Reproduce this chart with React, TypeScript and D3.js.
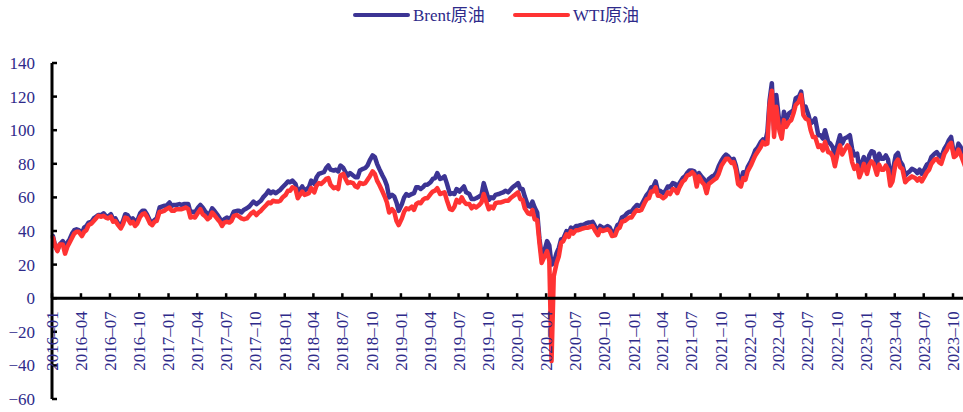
import React from 'react';
import * as d3 from 'd3';

// Series names (legend)
const seriesNames = ['Brent原油', 'WTI原油'];
const seriesColors = ['#3C3494', '#FF3333'];

// Four readings per month (around the 4th, 11th, 18th and 25th), starting January 2016
const startYear = 2016;

const brent: number[] = [
  // 2016
  37, 31, 28.5, 32, 34, 30, 33, 35, 38.5, 40.5, 41, 40.5, 38.5, 42, 43, 45, 45.5, 47.5, 48.5, 49.5, 49.5, 50.5, 49, 48.5,
  50, 47, 47.5, 45, 43, 46, 50, 49.5, 46.5, 47.5, 46, 46, 50.5, 52, 52, 50, 46, 45, 46.5, 47.5, 54, 54.5, 55, 55,
  // 2017
  57, 55, 55.5, 55.5, 56, 55.5, 56, 56, 56, 51, 51.5, 51, 54, 55.5, 54, 52, 50, 50.5, 53.5, 52, 49.5, 47.5, 45.5, 47,
  48, 47, 48.5, 51.5, 52, 52, 51, 52.5, 53.5, 54.5, 56, 57.5, 56, 57, 58, 60, 62, 64, 62.5, 63.5, 62.5, 63.5, 64.5, 66,
  // 2018
  68, 69.5, 69, 70, 68, 63, 64.5, 66.5, 64, 65, 66, 70, 68, 72, 74, 74.5, 75, 77.5, 79, 76.5, 76, 76.5, 75.5, 79,
  77.5, 75, 73, 74.5, 73, 72, 72, 76, 77, 77.5, 79, 82, 85, 84, 80, 77, 73, 70.5, 67, 60, 61.5, 60.5, 57, 52,
  // 2019
  56, 60, 62, 61, 62, 62.5, 66, 66, 65, 66, 67.5, 67.5, 69, 71, 71.5, 74.5, 71, 71.5, 72.5, 68.5, 62, 62.5, 62, 65,
  63.5, 65, 66.5, 63, 62, 59, 59, 59.5, 60.5, 61.5, 68.5, 64, 58.5, 60, 59.5, 61.5, 62, 62.5, 63, 64, 63, 64.5, 66, 67,
  // 2020
  68.5, 65, 65, 60.5, 55, 54.5, 57.5, 54, 51, 35.5, 25, 27, 34, 31.5, 20, 21, 27, 30, 35, 35.5, 40, 38.5, 42, 41,
  43, 43, 43.5, 43.5, 44.5, 45, 45, 45.5, 42, 40, 43, 42, 42, 43, 42, 39, 40, 43.5, 44.5, 48, 49, 50.5, 51.5, 51.5,
  // 2021
  54, 55.5, 55, 55.5, 59, 61.5, 63, 66, 66.5, 69.5, 64, 64, 62.5, 64, 66.5, 66, 68.5, 68, 66, 68.5, 71.5, 72.5, 74.5, 76,
  76, 75.5, 69, 74.5, 72, 70.5, 65.5, 71, 72.5, 73, 75, 78.5, 82, 84, 85.5, 84.5, 82, 83, 79, 72.5, 70, 75, 73.5, 78,
  // 2022
  81.5, 84.5, 88, 89.5, 93, 94.5, 93, 99, 118, 128, 100, 121, 104, 99, 111, 106, 110, 111, 112, 119, 120, 123, 113, 114,
  109, 104, 105, 107, 97, 97, 95, 100, 93, 92, 90, 85, 92, 97, 92, 95, 96, 97, 89, 85, 86, 77, 80, 84,
  // 2023
  79, 85, 87.5, 87, 80, 86, 83, 83, 85, 82.5, 73, 75, 85, 86.5, 81.5, 79.5, 73, 74.5, 75.5, 77, 76, 74.5, 76.5, 74,
  77, 79.5, 80.5, 84, 86, 87, 85, 84, 89, 91, 94, 96, 85.5, 86, 92, 90, 85, 81.5,
];

const wti: number[] = [
  // 2016
  36, 31, 28, 32, 32, 26.5, 30.5, 33, 36, 38.5, 39.5, 39.5, 37, 39.5, 40.5, 43.5, 44.5, 46, 47.5, 49, 48.5, 49, 48, 47.5,
  48.5, 45.5, 46, 44, 41.5, 44, 48, 47.5, 44.5, 45.5, 43, 44.5, 48.5, 50, 50.5, 48.5, 44.5, 43.5, 45.5, 46, 51.5, 51.5, 52, 53,
  // 2017
  54, 52, 52, 53, 53, 53, 53.5, 54, 53, 48, 48.5, 48, 51, 53, 50, 49, 47, 48, 51, 49.5, 47, 45.5, 43, 45,
  45.5, 45, 46, 49, 49.5, 48.5, 47.5, 47, 47.5, 49, 50.5, 51.5, 49.5, 51, 52, 53.5, 55.5, 57, 56.5, 58, 57.5, 57.5, 58, 60,
  // 2018
  61.5, 64, 64, 66, 65, 59.5, 61.5, 63.5, 61.5, 62, 62.5, 65.5, 63, 67, 68.5, 68, 69.5, 71, 71.5, 67.5, 65.5, 66, 65, 73,
  74, 71, 68.5, 69, 68.5, 66.5, 66, 68.7, 68, 68.5, 70.5, 72.5, 75.5, 74, 70, 67.5, 63.5, 60.5, 57, 51, 53, 51.5, 46, 43.5,
  // 2019
  47.5, 51.5, 53.5, 53, 54.5, 52.5, 56, 57, 56.5, 58.5, 59.5, 59.5, 62, 63.5, 64, 65.5, 62, 62.5, 63, 58.5, 53, 52.5, 54.5, 58.5,
  57, 60, 57.5, 56, 56, 53.5, 55, 54, 55.5, 57, 62, 58, 53, 54.5, 53.5, 56.5, 57, 57, 57.5, 58, 58, 59.5, 60.5, 61.5,
  // 2020
  63, 59, 58.5, 53.5, 50.5, 50, 52.5, 47, 46.5, 33, 21, 24, 28, 22.5, -37.5, 13, 21, 25, 33, 34, 38, 36.5, 40, 38.5,
  40.5, 40.5, 41, 41.5, 42, 42, 42.5, 43, 39.5, 37.5, 41, 40, 40.5, 41, 40, 37, 37.5, 41, 42, 45.5, 46, 47, 48, 48,
  // 2021
  51, 52.5, 52, 52.5, 56.5, 59, 59.5, 63.5, 63.5, 66, 61, 61, 59.5, 60.5, 63, 62, 65, 64.5, 62.5, 66, 69.5, 70.5, 73, 73.5,
  75, 73.5, 66.5, 72.5, 69, 67.5, 62.5, 68, 69.5, 70.5, 71.5, 74, 79, 81, 83, 83, 80.5, 81, 76.5, 68, 66.5, 71.5, 70.5, 75.5,
  // 2022
  79, 82, 85, 87, 90, 93, 91.5, 92, 115, 123.5, 96, 114, 99.5, 95, 106, 102, 105, 106, 110, 115, 117, 121, 109, 107,
  106, 100, 96, 96, 90, 91, 88, 93, 87, 86.5, 84.5, 78.5, 86.5, 91, 85.5, 88, 91, 89, 81, 77, 79, 72, 75.5, 80,
  // 2023
  74, 79.5, 81.5, 80, 73.5, 79.5, 76.5, 76.5, 79, 76.5, 67, 69.5, 80.5, 82.5, 78, 77, 69, 70.5, 71.5, 72.5, 71.5, 70, 71.5, 69.5,
  72.5, 75, 76.5, 80, 82.5, 83, 81, 80, 86, 88, 91, 92.5, 84, 85, 88.5, 85.5, 80.5, 77,
];

const xTickLabels = [
  '2016–01', '2016–04', '2016–07', '2016–10', '2017–01', '2017–04', '2017–07', '2017–10',
  '2018–01', '2018–04', '2018–07', '2018–10', '2019–01', '2019–04', '2019–07', '2019–10',
  '2020–01', '2020–04', '2020–07', '2020–10', '2021–01', '2021–04', '2021–07', '2021–10',
  '2022–01', '2022–04', '2022–07', '2022–10', '2023–01', '2023–04', '2023–07', '2023–10',
];

const yTickValues = [-60, -40, -20, 0, 20, 40, 60, 80, 100, 120, 140];

function pointDate(i: number): Date {
  const m = Math.floor(i / 4);
  const k = i % 4;
  return new Date(startYear + Math.floor(m / 12), m % 12, 4 + 7 * k);
}

function labelDate(s: string): Date {
  const [yy, mm] = s.split('–');
  return new Date(+yy, +mm - 1, 1);
}

const W = 963;
const H = 412;
const FONT = "'Liberation Serif', 'Times New Roman', 'Noto Sans CJK SC', serif";
const TEXT_COLOR = '#2E2A8A';

export default function App() {
  const x = d3
    .scaleTime()
    .domain([labelDate(xTickLabels[0]), labelDate(xTickLabels[xTickLabels.length - 1])])
    .range([52, 953]);
  const y = d3.scaleLinear().domain([-60, 140]).range([399, 63]);

  const line = d3
    .line<number>()
    .x((_, i) => x(pointDate(i)))
    .y((d) => y(d));

  const yFmt = d3.format('d');
  const x0 = x.range()[0];
  const yZero = y(0);

  const series = [brent, wti];

  return (
    <div style={{ position: 'absolute', left: 0, top: 0 }}>
      <svg width={W} height={H} style={{ display: 'block', background: '#fff' }} fontFamily={FONT}>
        <defs>
          <clipPath id="plot">
            <rect x={0} y={0} width={W} height={H} />
          </clipPath>
        </defs>

        {/* legend */}
        {seriesNames.map((name, i) => {
          const lx = i === 0 ? 355 : 515;
          return (
            <g key={name}>
              <line x1={lx} x2={lx + 53} y1={15} y2={15} stroke={seriesColors[i]} strokeWidth={4} strokeLinecap="round" />
              <text x={lx + 58} y={21} fontSize={17} fill={TEXT_COLOR}>
                {name}
              </text>
            </g>
          );
        })}

        {/* lines */}
        <g clipPath="url(#plot)">
          {series.map((s, i) => (
            <path
              key={i}
              d={line(s) || ''}
              fill="none"
              stroke={seriesColors[i]}
              strokeWidth={4.5}
              strokeLinejoin="round"
              strokeLinecap="round"
            />
          ))}
        </g>

        {/* y axis */}
        <line x1={x0} x2={x0} y1={y(140)} y2={y(-60)} stroke="#000" strokeWidth={3} />
        {yTickValues.map((v) => (
          <g key={v}>
            <line x1={x0} x2={x0 + 5} y1={y(v)} y2={y(v)} stroke="#000" strokeWidth={2.5} />
            <text x={35} y={y(v)} dy="0.35em" textAnchor="end" fontSize={17} fill={TEXT_COLOR}>
              {yFmt(v)}
            </text>
          </g>
        ))}

        {/* x axis */}
        <line x1={x0} x2={W} y1={yZero} y2={yZero} stroke="#000" strokeWidth={3} />
        {xTickLabels.map((lab) => {
          const tx = x(labelDate(lab));
          return (
            <g key={lab}>
              <line x1={tx} x2={tx} y1={yZero} y2={yZero - 5} stroke="#000" strokeWidth={2.5} />
              <text
                transform={`translate(${tx},${yZero + 13}) rotate(-90)`}
                dy="0.35em"
                textAnchor="end"
                fontSize={17}
                fill={TEXT_COLOR}
              >
                {lab}
              </text>
            </g>
          );
        })}
      </svg>
    </div>
  );
}
